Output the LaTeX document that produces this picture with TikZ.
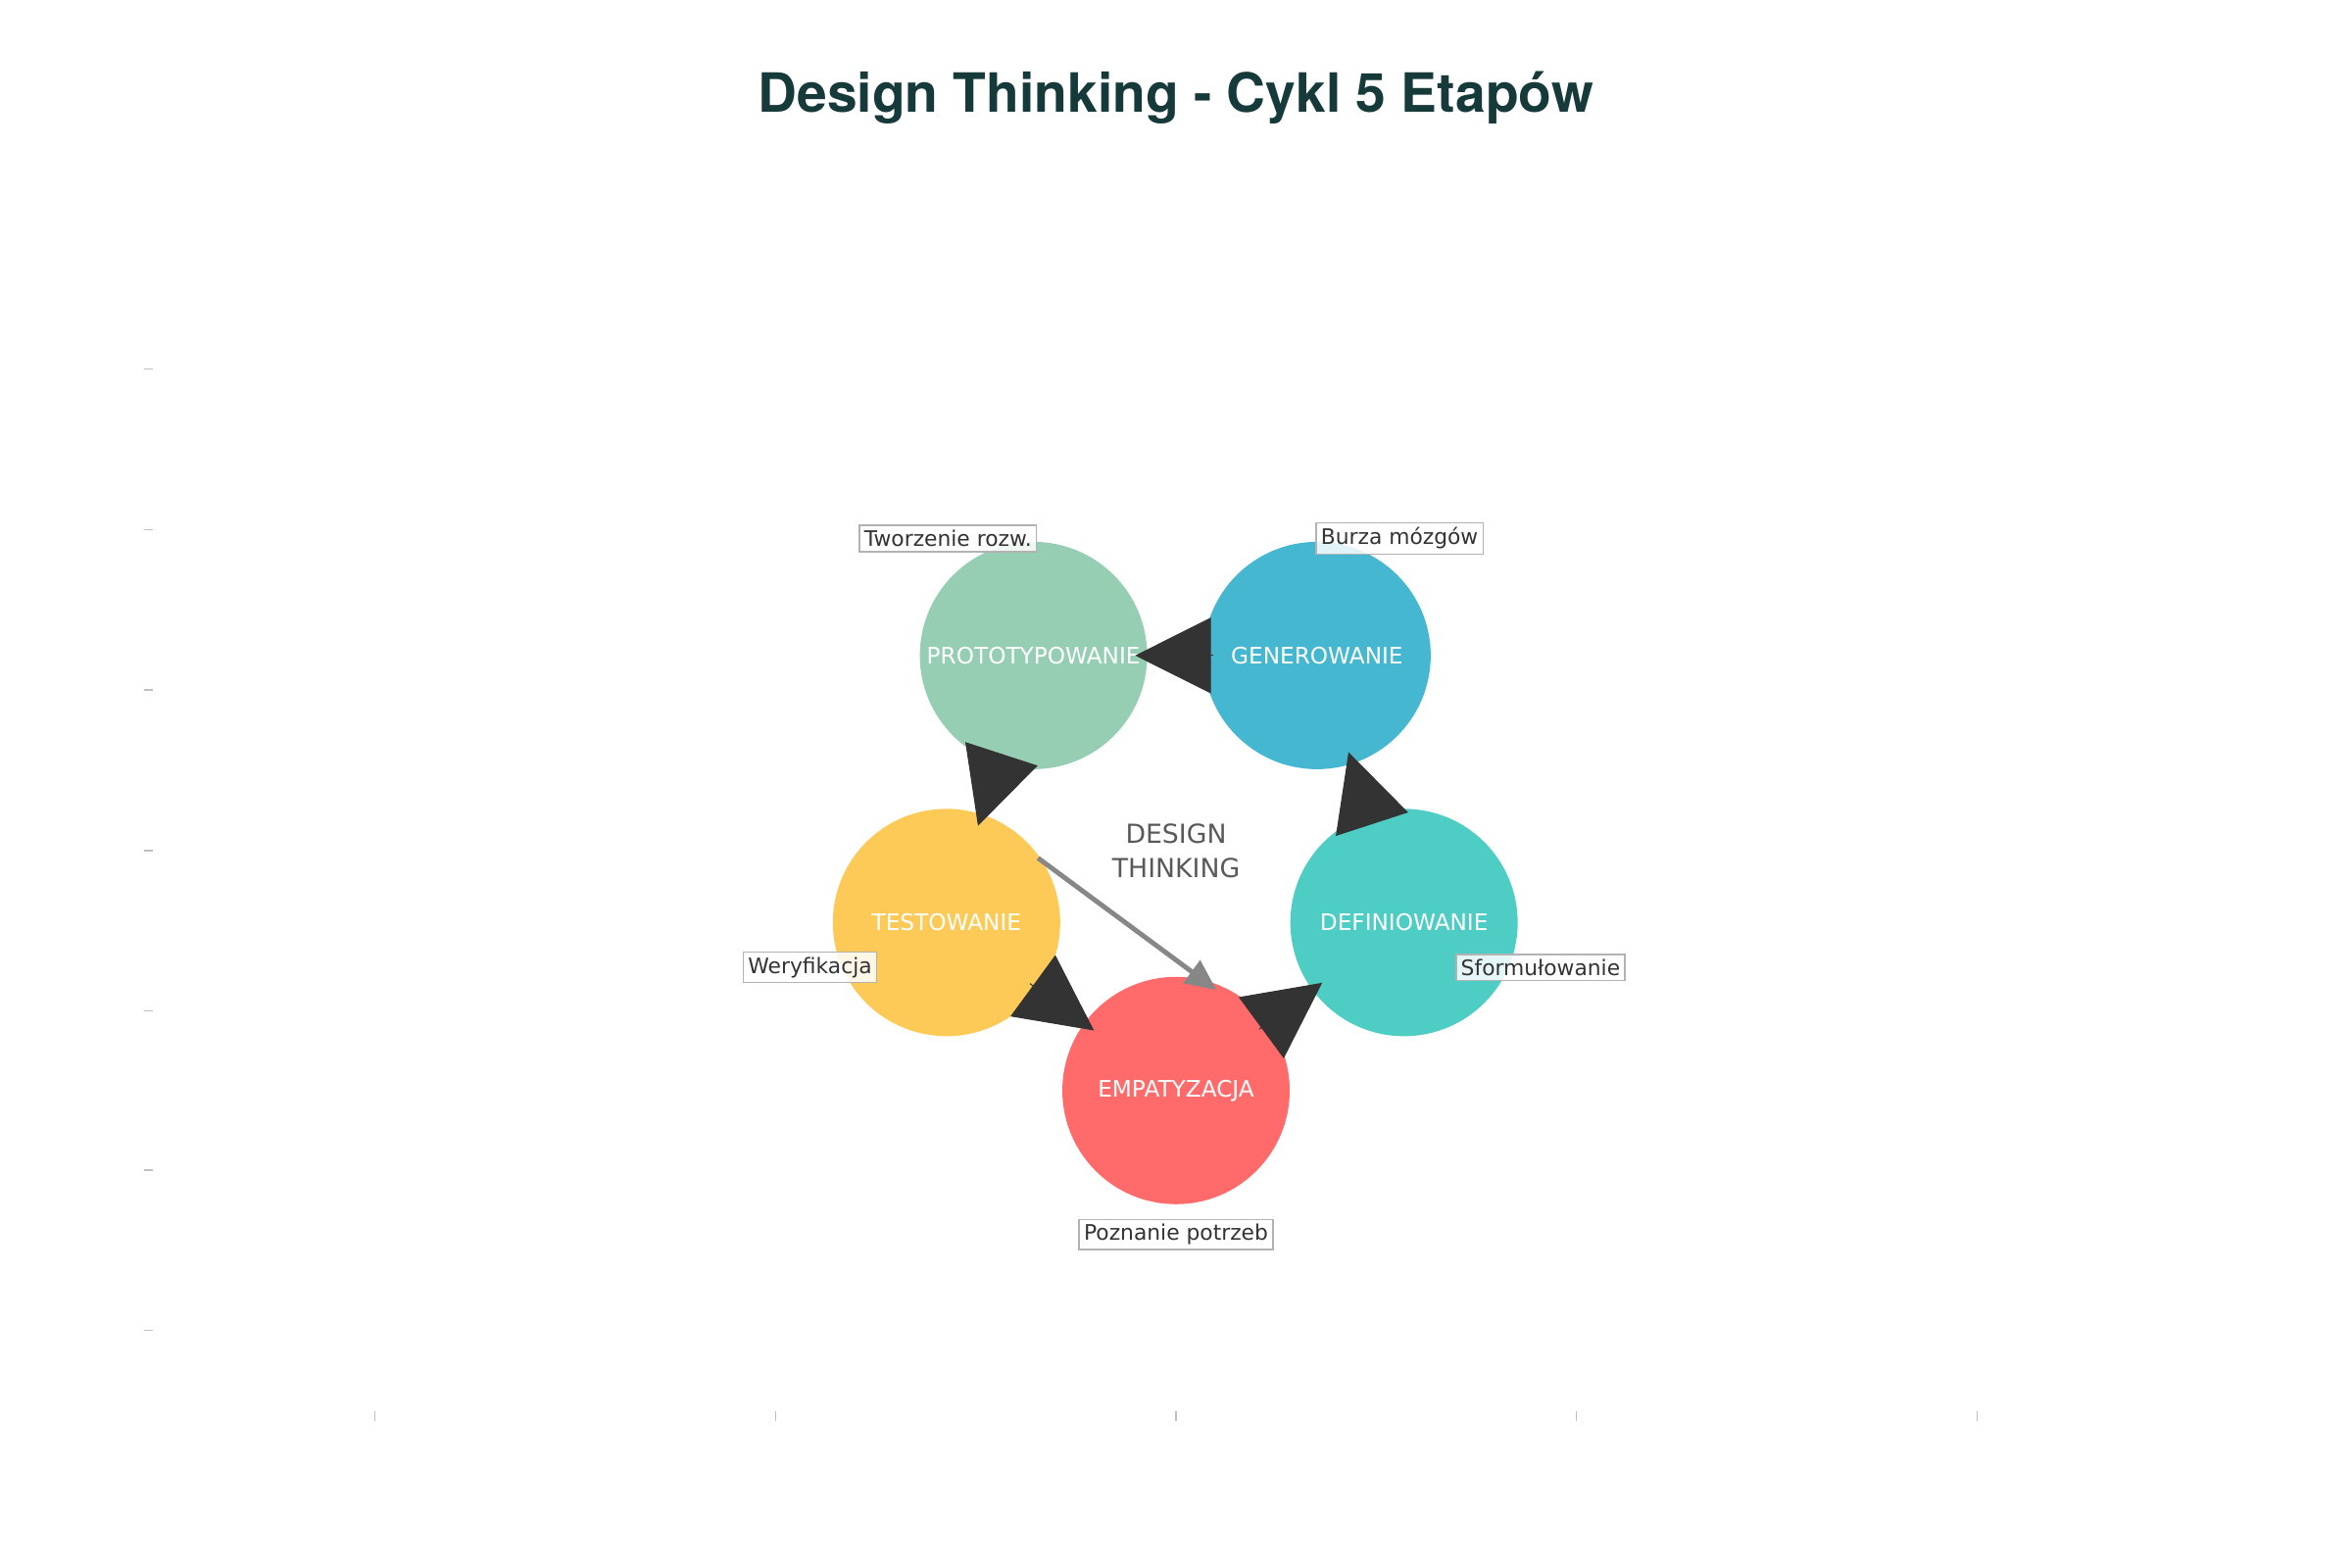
\documentclass[tikz,border=0pt]{standalone}
\usepackage{fontspec}
\setmainfont{DejaVu Sans}
\newfontfamily\titlefont{TeX Gyre Heros}
\usetikzlibrary{arrows.meta}
\definecolor{cproto}{HTML}{96CEB4}
\definecolor{cgen}{HTML}{45B7D1}
\definecolor{cdef}{HTML}{4ECDC4}
\definecolor{cemp}{HTML}{FF6B6B}
\definecolor{ctest}{HTML}{FECA57}
\definecolor{ctitle}{HTML}{163A3A}
\definecolor{cdark}{HTML}{333333}
\tikzset{
  stage/.style={circle, minimum size=66pt, inner sep=0pt, text=white, font=\fontsize{6.6}{8}\selectfont},
  bigarr/.style={draw=cdark, line width=0.3pt, -{Triangle[length=22pt,width=22pt]}, shorten <=30pt, shorten >=29.5pt},
  note/.style={draw=black!30, line width=0.4pt, fill=white, fill opacity=0.85, text opacity=1, text=cdark, inner sep=1.4pt, font=\fontsize{6.2}{7.5}\selectfont},
  tick/.style={draw=black!25, line width=0.4pt}
}
\begin{document}
\begin{tikzpicture}[x=0.01531cm, y=-0.01531cm]
\useasboundingbox (0,0) rectangle (1568,1045);
\node[font=\titlefont\bfseries\fontsize{15.7}{19}\selectfont, text=ctitle] (title) at (784,65) {Design Thinking - Cykl 5 Etapów};
\foreach \yy in {246,353,460,567,674,780,887} \draw[tick] (96,\yy) -- (102,\yy);
\foreach \xx in {250,517,784,1051,1318} \draw[tick] (\xx,941) -- (\xx,947);
\node[stage, fill=cproto] (proto) at (689,437) {PROTOTYPOWANIE};
\node[stage, fill=cgen] (gen) at (878,437) {GENEROWANIE};
\node[stage, fill=cdef] (def) at (936,615) {DEFINIOWANIE};
\node[stage, fill=cemp] (emp) at (784,727) {EMPATYZACJA};
\node[stage, fill=ctest] (test) at (631,615) {TESTOWANIE};
\node[font=\fontsize{7.6}{10}\selectfont, text=black!65, align=center] (center) at (784,567) {DESIGN\\THINKING};
\coordinate (gstart) at (692,572);
\coordinate (gend) at (811,660);
\draw[line width=1.4pt, color=black!47, -{Triangle[length=9pt,width=8pt]}] (gstart) -- (gend);
\draw[bigarr] (emp.center) -- (def.center);
\draw[bigarr] (def.center) -- (gen.center);
\draw[bigarr] (gen.center) -- (proto.center);
\draw[bigarr] (proto.center) -- (test.center);
\draw[bigarr] (test.center) -- (emp.center);
\node[note] (n1) at (632,359) {Tworzenie rozw.};
\node[note] (n2) at (933,359) {Burza mózgów};
\node[note] (n3) at (1027,645) {Sformułowanie};
\node[note] (n4) at (784,823) {Poznanie potrzeb};
\node[note] (n5) at (540,645) {Weryfikacja};
\end{tikzpicture}
\end{document}
